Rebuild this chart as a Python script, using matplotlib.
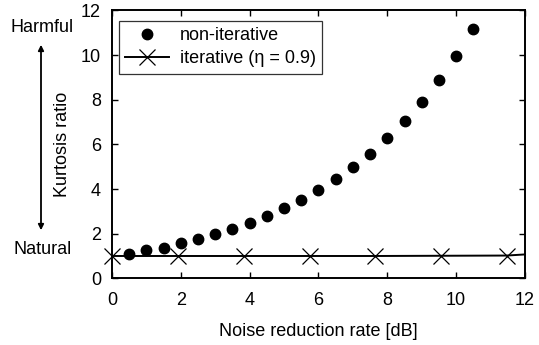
import matplotlib
matplotlib.use("Agg")
import matplotlib.pyplot as plt

plt.rcParams['font.family'] = ['Liberation Sans', 'DejaVu Sans']
plt.rcParams['font.size'] = 13

# non-iterative: kurtosis ratio vs noise reduction rate
noniter_x = [0.5, 1.0, 1.5, 2.0, 2.5, 3.0, 3.5, 4.0, 4.5, 5.0, 5.5,
             6.0, 6.5, 7.0, 7.5, 8.0, 8.5, 9.0, 9.5, 10.0, 10.5]
noniter_y = [1.08, 1.25, 1.38, 1.56, 1.75, 1.98, 2.2, 2.5, 2.8, 3.13, 3.5,
             3.97, 4.43, 4.98, 5.58, 6.28, 7.04, 7.92, 8.88, 9.97, 11.19]

# iterative (eta = 0.9)
iter_x = [0.0, 1.91, 3.83, 5.74, 7.65, 9.56, 11.47, 12.0]
iter_y = [1.0, 1.0, 1.0, 1.0, 1.0, 1.01, 1.02, 1.07]

fig = plt.figure(figsize=(5.39, 3.45), dpi=100)
ax = fig.add_axes([0.2078, 0.1933, 0.7662, 0.7763])

ax.plot(noniter_x, noniter_y, 'o', color='black', markersize=7.5,
        linestyle='none', label='non-iterative', clip_on=False)
ax.plot(iter_x, iter_y, '-', color='black', linewidth=1.4, marker='x',
        markersize=12, markeredgewidth=0.9, markevery=list(range(7)),
        label='iterative (\u03b7 = 0.9)', clip_on=False, zorder=3)

ax.set_xlim(0, 12)
ax.set_ylim(0, 12)
ax.set_xticks(range(0, 13, 2))
ax.set_yticks(range(0, 13, 2))
ax.tick_params(direction='in', top=True, right=True, length=4, width=1)
ax.tick_params(axis='x', pad=10)
ax.tick_params(axis='y', pad=8)
for s in ax.spines.values():
    s.set_linewidth(1.4)

ax.set_xlabel('Noise reduction rate [dB]')
ax.set_ylabel('Kurtosis ratio')
ax.yaxis.set_label_coords(-0.099, 0.5)
ax.xaxis.set_label_coords(0.5, -0.165)

leg = ax.legend(loc='upper left', bbox_to_anchor=(0.017, 0.962),
                borderaxespad=0, frameon=True, fancybox=False,
                edgecolor='black', handlelength=2.4, labelspacing=0.35,
                borderpad=0.35, handletextpad=0.6)
leg.get_frame().set_linewidth(0.9)

# Harmful / Natural annotation on the left
fig.text(42 / 539, 1 - 28 / 345, 'Harmful', ha='center', va='center')
fig.text(43 / 539, 1 - 249 / 345, 'Natural', ha='center', va='center')
fig.add_artist(matplotlib.patches.FancyArrowPatch(
    (41 / 539, 1 - 42 / 345), (41 / 539, 1 - 233 / 345),
    transform=fig.transFigure, arrowstyle='<|-|>', mutation_scale=8,
    color='black', linewidth=1.3))

fig.savefig('out.png', dpi=100)
